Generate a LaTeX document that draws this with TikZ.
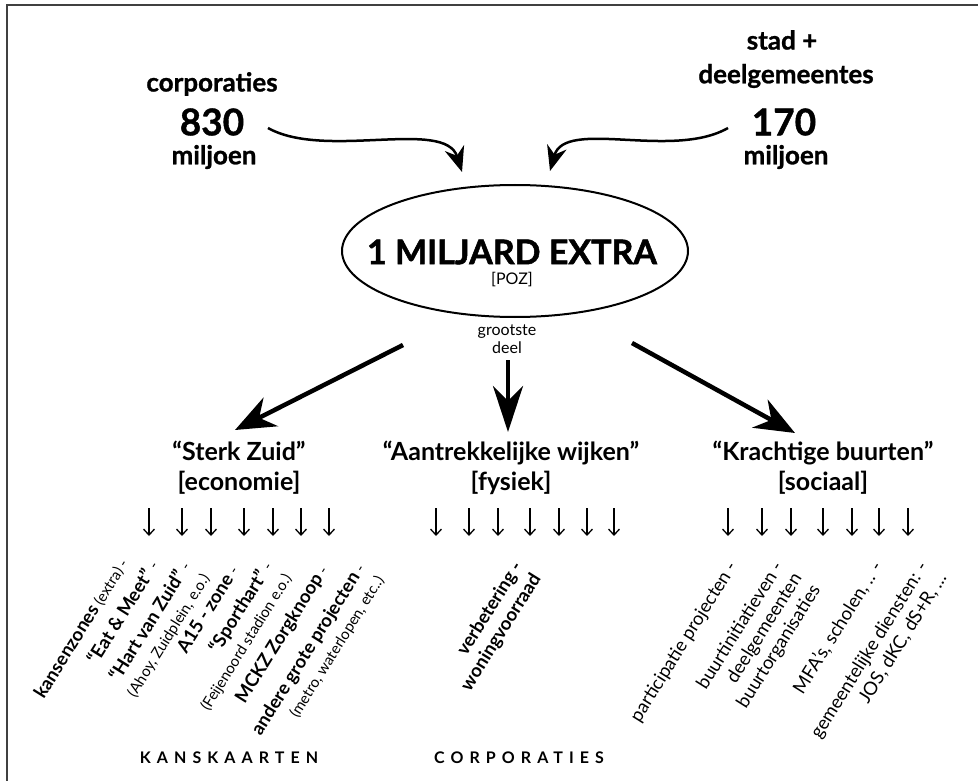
\documentclass[tikz,border=0pt]{standalone}
\usepackage{fontspec}
\setmainfont{Lato}
\usetikzlibrary{shapes.geometric,arrows.meta}
\newcommand{\minor}{\fontsize{15}{18}\selectfont\mdseries}

\begin{document}
\begin{tikzpicture}
		[x=1pt,y=-1pt,
		src/.style={font={\fontsize{26}{26}\selectfont\bfseries\addfontfeature{FakeBold=1}}},
		sum/.style={font={\fontsize{37}{37}\selectfont\bfseries\addfontfeature{FakeBold=1}}},
		pillar/.style={font=\fontsize{25}{30}\selectfont\bfseries,align=center},
		note/.style={font=\fontsize{16}{18}\selectfont,align=center},
		item/.style={rotate=58,anchor=north east,inner sep=0pt,align=right,font=\fontsize{18.5}{22}\selectfont},
		bitem/.style={item,font=\fontsize{18.5}{22}\selectfont\bfseries},
		footer/.style={font={\fontsize{16}{16}\selectfont\bfseries\addfontfeature{LetterSpace=38}}},
		feed/.style={line width=2.5pt,-{Stealth[length=25pt,width=20pt,inset=8pt]}},
		split/.style={line width=4.5pt,-{Stealth[length=40pt,width=32pt,inset=13pt]}},
		tick/.style={line width=1.3pt,-{Straight Barb[length=6pt,width=11pt]}}]
		\useasboundingbox (0,0) rectangle (978,781);
		\draw[line width=1.8pt,black!75] (978,5) -- (7,5) -- (7,781);
		% sources
		\node[src,name=corp] at (212,84) {corporaties};
		\node[sum,name=corpsum] at (212,122) {830};
		\node[src,name=corpmil] at (214,157) {miljoen};
		\node[src,name=stad] at (782,40) {stad +};
		\node[src,name=deelg] at (786,76) {deelgemeentes};
		\node[sum,name=stadsum] at (784,122) {170};
		\node[src,name=stadmil] at (786,157) {miljoen};
		% the extra billion
		\node[draw,ellipse,line width=2pt,minimum width=346pt,minimum height=132pt,inner sep=0pt,name=poz] at (515,251) {};
		\node[font={\fontsize{34}{34}\selectfont\bfseries\addfontfeature{FakeBold=1.5}},name=extra] at (512,252) {1 MILJARD EXTRA};
		\node[note,name=pozlbl] at (512,280) {[POZ]};
		\node[note,name=grootste] at (507,339) {grootste\\deel};
		\coordinate (corpout) at (268,128);
		\coordinate (corpin) at (462,172);
		\coordinate (stadout) at (728,128);
		\coordinate (stadin) at (550,171);
		\draw[feed] (corpout) .. controls (325,160) and (445,118) .. (corpin);
		\draw[feed] (stadout) .. controls (672,160) and (565,118) .. (stadin);
		% three pillars
		\node[pillar,name=sterk] at (239,468) {“Sterk Zuid"\\{}[economie]};
		\node[pillar,name=wijken] at (511,468) {“Aantrekkelijke wijken"\\{}[fysiek]};
		\node[pillar,name=buurten] at (823,468) {“Krachtige buurten"\\{}[sociaal]};
		\coordinate (splitl) at (403,345);
		\coordinate (splitm) at (508,360);
		\coordinate (splitr) at (632,343);
		\coordinate (sterkin) at (235,430);
		\coordinate (wijkenin) at (508,432);
		\coordinate (buurtenin) at (795,433);
		\draw[split] (splitl) -- (sterkin);
		\draw[split,-{Stealth[length=46pt,width=30pt,inset=15pt]}] (splitm) -- (wijkenin);
		\draw[split] (splitr) -- (buurtenin);
		\foreach \x in {149,182,211,244,273,301,329,436,469,498,530,559,587,614,728,762,791,823,852,879,908}
			\draw[tick] (\x,508) -- (\x,536);
		% kanskaarten
		\node[bitem,name=kz] at (117,556) {kansenzones {\minor (extra) -}};
		\node[bitem,name=eat] at (147,558) {“Eat \& Meet" {\minor -}};
		\node[bitem,name=hart] at (179,559) {“Hart van Zuid" {\minor -}\\{\minor (Ahoy, Zuidplein, e.o.)}};
		\node[bitem,name=a15] at (228,563) {A15 - zone {\minor -}};
		\node[bitem,name=sport] at (261,559) {“Sporthart" {\minor -}\\{\minor (Feijenoord stadion e.o.)}};
		\node[bitem,name=mckz] at (317,563) {MCKZ Zorgknoop {\minor -}};
		\node[bitem,name=andere] at (354,561) {andere grote projecten {\minor -}\\{\minor (metro, waterlopen, etc..)}};
		% corporaties
		\node[bitem,name=verb] at (511,559) {verbetering -\\woningvoorraad};
		% sociaal
		\node[item,name=part] at (726,559) {participatie projecten -};
		\node[item,name=buurt] at (772,559) {buurtinitiatieven -\\deelgemeenten\\buurtorganisaties};
		\node[item,name=mfa] at (871,559) {MFA’s, scholen, .. -};
		\node[item,name=dienst] at (917,559) {gemeentelijke diensten: -\\JOS, dKC, dS+R, ...};
		\node[footer,name=kans] at (229,758) {KANSKAARTEN};
		\node[footer,name=corpfoot] at (519,758) {CORPORATIES};
	\end{tikzpicture}
\end{document}
